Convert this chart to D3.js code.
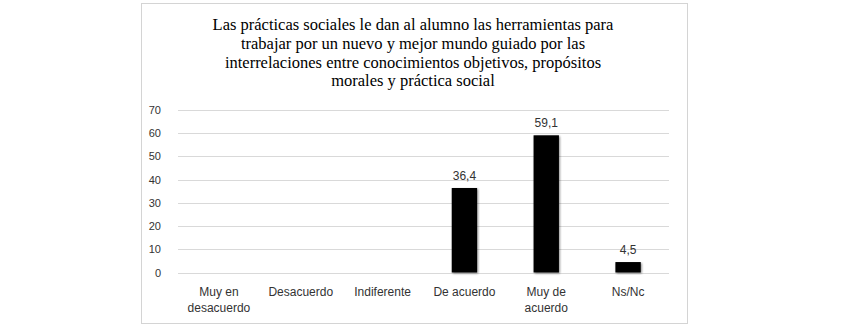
<!DOCTYPE html>
<html>
<head>
<meta charset="utf-8">
<script src="https://cdn.jsdelivr.net/npm/d3@7"></script>
<style>
  body { margin: 0; background: #fff; }
  svg { display: block; }
</style>
</head>
<body>
<svg id="chart"></svg>
<script>
// data
const categories = ["Muy en desacuerdo", "Desacuerdo", "Indiferente", "De acuerdo", "Muy de acuerdo", "Ns/Nc"];
const catLines = [["Muy en", "desacuerdo"], ["Desacuerdo"], ["Indiferente"], ["De acuerdo"], ["Muy de", "acuerdo"], ["Ns/Nc"]];
const values = [null, null, null, 36.4, 59.1, 4.5];
const yTicks = [0, 10, 20, 30, 40, 50, 60, 70];
const titleLines = [
    "Las prácticas sociales le dan al alumno las herramientas para",
    "trabajar por un nuevo y mejor mundo guiado por las",
    "interrelaciones entre conocimientos objetivos, propósitos",
    "morales y práctica social"
];

const width = 856, height = 330;
const svg = d3.select("#chart").attr("width", width).attr("height", height);

// outer frame
svg.append("rect")
    .attr("x", 141.5).attr("y", 3.5)
    .attr("width", 546).attr("height", 320)
    .attr("fill", "#fff")
    .attr("stroke", "#d4d4d4")
    .attr("stroke-width", 1);

const plot = { left: 178, right: 669, top: 110, bottom: 272.5 };

const x = d3.scaleBand()
    .domain(categories)
    .range([plot.left, plot.right])
    .paddingInner(0.69)
    .paddingOuter(0.345);

const y = d3.scaleLinear()
    .domain([0, 70])
    .range([plot.bottom, plot.top]);

// gridlines
svg.append("g")
    .selectAll("line")
    .data(yTicks)
    .enter().append("line")
    .attr("x1", plot.left).attr("x2", plot.right)
    .attr("y1", d => Math.round(y(d)) + 0.5)
    .attr("y2", d => Math.round(y(d)) + 0.5)
    .attr("stroke", "#d9d9d9")
    .attr("stroke-width", 1);

// y axis labels
const yAxis = svg.append("g")
    .attr("transform", `translate(${plot.left},0)`)
    .call(d3.axisLeft(y).tickValues(yTicks).tickSize(0).tickPadding(17));
yAxis.select(".domain").remove();
yAxis.selectAll("text")
    .attr("font-family", "'Liberation Sans', Arial, sans-serif")
    .attr("font-size", 11)
    .attr("fill", "#333");

// shadow filter for bars
const defs = svg.append("defs");
const f = defs.append("filter").attr("id", "shadow")
    .attr("x", "-20%").attr("y", "-10%").attr("width", "150%").attr("height", "130%");
f.append("feGaussianBlur").attr("in", "SourceAlpha").attr("stdDeviation", 1.2).attr("result", "b");
f.append("feOffset").attr("in", "b").attr("dx", 1).attr("dy", 1).attr("result", "o");
f.append("feComponentTransfer").attr("in", "o").attr("result", "o2")
    .append("feFuncA").attr("type", "linear").attr("slope", 0.45);
const m = f.append("feMerge");
m.append("feMergeNode").attr("in", "o2");
m.append("feMergeNode").attr("in", "SourceGraphic");

const barData = categories.map((c, i) => ({ cat: c, v: values[i] })).filter(d => d.v != null);

svg.append("g")
    .selectAll("rect")
    .data(barData)
    .enter().append("rect")
    .attr("x", d => x(d.cat))
    .attr("y", d => y(d.v))
    .attr("width", x.bandwidth())
    .attr("height", d => y(0) - y(d.v))
    .attr("fill", "#000")
    .attr("filter", "url(#shadow)");

// value labels
svg.append("g")
    .selectAll("text")
    .data(barData)
    .enter().append("text")
    .attr("x", d => x(d.cat) + x.bandwidth() / 2)
    .attr("y", d => y(d.v) - 8)
    .attr("text-anchor", "middle")
    .attr("font-family", "'Liberation Sans', Arial, sans-serif")
    .attr("font-size", 12)
    .attr("fill", "#333")
    .text(d => d3.format(".1f")(d.v).replace(".", ","));

// category labels
const catG = svg.append("g")
    .selectAll("text")
    .data(categories)
    .enter().append("text")
    .attr("x", d => x(d) + x.bandwidth() / 2)
    .attr("y", 296)
    .attr("text-anchor", "middle")
    .attr("font-family", "'Liberation Sans', Arial, sans-serif")
    .attr("font-size", 12)
    .attr("fill", "#333");
catG.each(function (d, i) {
    const t = d3.select(this);
    catLines[i].forEach((ln, j) => {
        t.append("tspan")
            .attr("x", x(d) + x.bandwidth() / 2)
            .attr("dy", j === 0 ? 0 : 15.5)
            .text(ln);
    });
});

// title
svg.append("g")
    .selectAll("text")
    .data(titleLines)
    .enter().append("text")
    .attr("x", 413)
    .attr("y", (d, i) => 30 + i * 18.8)
    .attr("text-anchor", "middle")
    .attr("font-family", "'Liberation Serif', 'Times New Roman', serif")
    .attr("font-size", 16.5)
    .attr("fill", "#000")
    .text(d => d);
</script>
</body>
</html>
